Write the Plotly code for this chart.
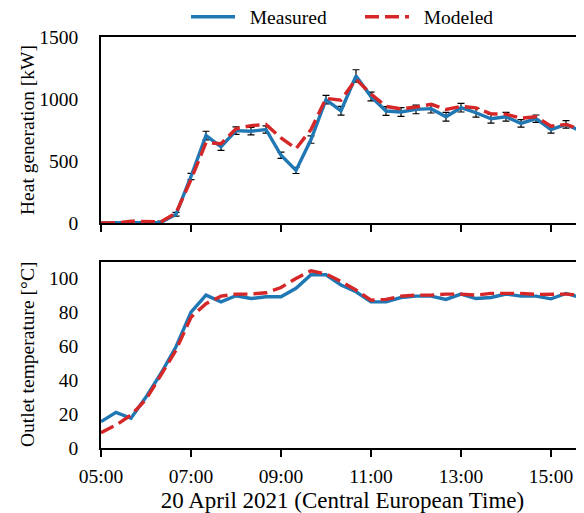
import plotly.graph_objects as go

times = ["05:00","05:20","05:40","06:00","06:20","06:40","07:00","07:20","07:40",
         "08:00","08:20","08:40","09:00","09:20","09:40","10:00","10:20","10:40",
         "11:00","11:20","11:40","12:00","12:20","12:40","13:00","13:20","13:40",
         "14:00","14:20","14:40","15:00","15:20","15:40","16:00"]

heat_measured = [0, 0, 0, 0, 5, 70, 375, 705, 615, 745, 740, 754, 546, 424, 673, 995, 905,
                 1186, 1020, 903, 895, 916, 922, 857, 930, 889, 841, 857, 803, 841, 754, 795, 741, 730]
heat_err = [5, 5, 5, 5, 10, 15, 25, 35, 30, 30, 30, 30, 25, 25, 30, 35, 35,
            50, 35, 35, 35, 35, 35, 35, 35, 35, 35, 35, 30, 30, 30, 30, 30, 30]
heat_modeled = [0, 0, 15, 10, 10, 80, 350, 648, 640, 760, 785, 795, 686, 600, 754, 1005, 990,
                1160, 1040, 940, 920, 935, 957, 916, 940, 928, 880, 878, 845, 857, 781, 795, 754, 745]

temp_measured = [15.5, 21, 17.5, 30, 44, 59.6, 80, 90, 86, 89.6, 88, 89, 89, 94, 102, 102, 96,
                 92, 86, 86, 88.6, 89.4, 89.4, 87.5, 90.6, 88, 88.6, 90.6, 89.4, 89.4, 87.8, 91, 88.6, 89]
temp_modeled = [9, 13.5, 19.4, 28.6, 43, 57.6, 77, 85, 89.4, 90.6, 90.6, 91.4, 94.5, 99.8, 104.3, 102.5, 98,
                93, 87, 87.5, 89.4, 90, 90, 90.6, 90.6, 90, 91, 91, 91, 90.4, 90.4, 90.6, 90, 90]

x_tick_labels = ["05:00", "07:00", "09:00", "11:00", "13:00", "15:00"]
heat_ticks = [0, 500, 1000, 1500]
temp_ticks = [0, 20, 40, 60, 80, 100]
legend_names = ["Measured", "Modeled"]
y_titles = ["Heat generation [kW]", "Outlet temperature [°C]"]
x_title = "20 April 2021 (Central European Time)"

x = ["2021-04-20 " + t for t in times]
BLUE = "#1f77b4"
RED = "#d62728"
FONT = "Liberation Serif"
FS = 19.5
LW = 3.4
DASH = "14px,6px"
NB = "\u00a0\u00a0"
HEAT_RANGE = [0, 1500]
TEMP_RANGE = [0, 109.5]

fig = go.Figure()
fig.add_trace(go.Scatter(x=x, y=heat_measured, mode="lines", name=NB + legend_names[0],
                         line=dict(color=BLUE, width=LW),
                         error_y=dict(type="data", array=heat_err, color="black", thickness=1.2, width=3.5),
                         xaxis="x", yaxis="y"))
fig.add_trace(go.Scatter(x=x, y=heat_modeled, mode="lines", name=NB + legend_names[1],
                         line=dict(color=RED, width=LW, dash=DASH),
                         xaxis="x", yaxis="y"))
fig.add_trace(go.Scatter(x=x, y=temp_measured, mode="lines", name=legend_names[0], showlegend=False,
                         line=dict(color=BLUE, width=LW), xaxis="x2", yaxis="y2"))
fig.add_trace(go.Scatter(x=x, y=temp_modeled, mode="lines", name=legend_names[1], showlegend=False,
                         line=dict(color=RED, width=LW, dash=DASH), xaxis="x2", yaxis="y2"))

xrange = ["2021-04-20 05:00", "2021-04-20 15:44"]
tickvals = ["2021-04-20 " + t for t in x_tick_labels]

common_x = dict(range=xrange, tickvals=tickvals, ticktext=x_tick_labels, showline=True,
                linecolor="black", linewidth=1.5, mirror=True, ticks="outside", ticklen=7,
                tickwidth=1.5, tickcolor="black", showgrid=False, zeroline=False, domain=[0, 1],
                automargin=False, ticklabelstandoff=3)
# label-carrying y axes: long transparent ticks push the labels away from the spine
label_y = dict(showline=True, linecolor="black", linewidth=1.5, ticks="outside", ticklen=17,
               tickwidth=1.5, tickcolor="rgba(0,0,0,0)", showgrid=False, zeroline=False,
               mirror=False, automargin=False)
# tick-only overlay y axes: the visible short black ticks
tick_y = dict(showline=False, ticks="outside", ticklen=7, tickwidth=1.5, tickcolor="black",
              showgrid=False, zeroline=False, showticklabels=False, automargin=False, side="left")

# The page body has an 8px margin, so the figure is laid out 8px up/left of the target picture.
W, H = 576, 505.0
PLOT_W = 483.0
top_dom = [1 - 215 / H, 1 - 29 / H]
bot_dom = [1 - 440 / H, 1 - 254 / H]
title_x = (19 - 93) / PLOT_W

fig.update_layout(
    width=W, height=int(H),
    margin=dict(l=93, r=0, t=0, b=0, autoexpand=False),
    paper_bgcolor="white", plot_bgcolor="white",
    font=dict(family=FONT, size=FS, color="black"),
    xaxis=dict(**common_x, anchor="y", showticklabels=False),
    yaxis=dict(**label_y, domain=top_dom, range=HEAT_RANGE, tickvals=heat_ticks, anchor="x"),
    yaxis3=dict(**tick_y, overlaying="y", anchor="x", range=HEAT_RANGE, tickvals=heat_ticks),
    xaxis2=dict(**common_x, anchor="y2", title=dict(text=x_title, standoff=11)),
    yaxis2=dict(**label_y, domain=bot_dom, range=TEMP_RANGE, tickvals=temp_ticks, anchor="x2"),
    yaxis4=dict(**tick_y, overlaying="y2", anchor="x2", range=TEMP_RANGE, tickvals=temp_ticks),
    legend=dict(orientation="h", x=(178 - 93) / PLOT_W, xanchor="left", y=1 - 9 / H, yanchor="middle",
                font=dict(size=FS), itemwidth=44, entrywidth=115, entrywidthmode="pixels",
                bgcolor="rgba(0,0,0,0)", tracegroupgap=0),
    showlegend=True,
    annotations=[
        dict(text=y_titles[0], xref="paper", yref="paper", x=title_x, y=sum(top_dom) / 2,
             xanchor="center", yanchor="middle", textangle=-90, showarrow=False,
             font=dict(size=FS)),
        dict(text=y_titles[1], xref="paper", yref="paper", x=title_x, y=sum(bot_dom) / 2,
             xanchor="center", yanchor="middle", textangle=-90, showarrow=False,
             font=dict(size=FS)),
    ],
)

fig.write_html("out.html")
